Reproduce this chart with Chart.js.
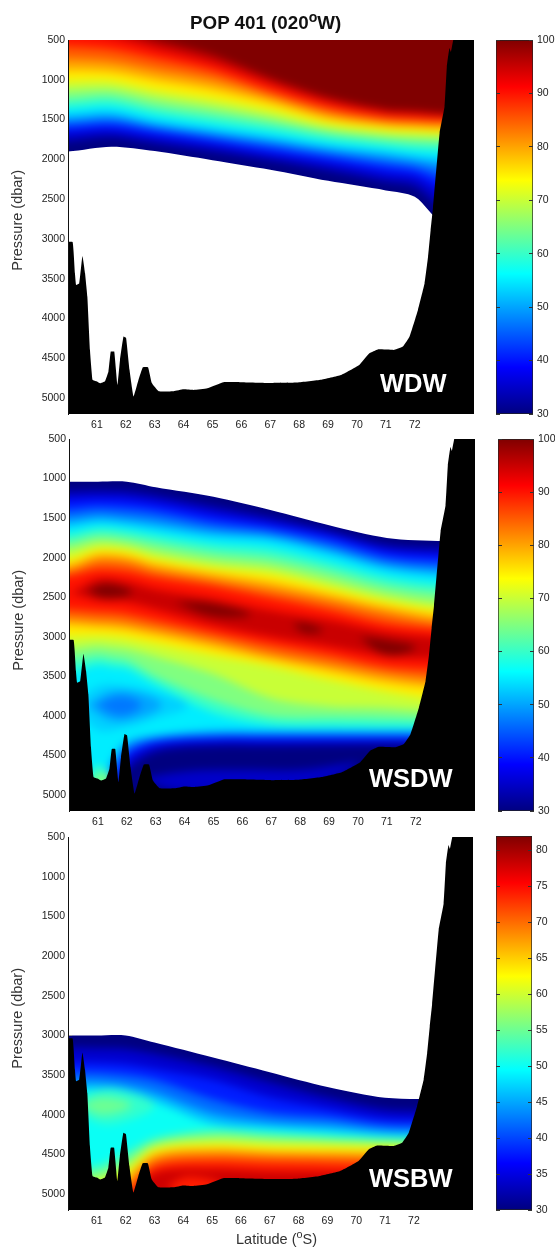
<!DOCTYPE html>
<html>
<head>
<meta charset="utf-8">
<title>POP 401</title>
<script src="https://cdn.jsdelivr.net/npm/chart.js@4"></script>
<style>
  html, body { margin: 0; background: #fff; overflow: hidden; }
  body { position: relative; width: 555px; height: 1248px; font-family: "Liberation Sans", Arial, sans-serif; color: #222; }
  canvas { position: absolute; }
  .txt { position: absolute; white-space: nowrap; z-index: 2; }
  .tag { color: #fff; font-weight: bold; font-size: 25.5px; line-height: 26px; }
  .ylab { font-size: 14.5px; line-height: 16px; color: #333; writing-mode: vertical-rl; transform: rotate(180deg); }
  .field { position: absolute; overflow: hidden; }
  .field canvas { filter: blur(4px); }
  sup { font-size: 75%; line-height: 0; }
</style>
</head>
<body>
<div class="txt" style="left:190px;top:12px;font-size:18.8px;font-weight:bold;color:#111">POP 401 (020<sup>o</sup>W)</div>
<div class="txt tag" style="left:380px;top:370px">WDW</div>
<div class="txt tag" style="left:369px;top:765px">WSDW</div>
<div class="txt tag" style="left:369px;top:1165px">WSBW</div>
<div class="txt ylab" style="left:9px;top:170px">Pressure (dbar)</div>
<div class="txt ylab" style="left:10px;top:570px">Pressure (dbar)</div>
<div class="txt ylab" style="left:9px;top:968px">Pressure (dbar)</div>
<div class="txt" style="left:236px;top:1231px;font-size:14.5px;color:#333">Latitude (<sup>o</sup>S)</div>

<canvas id="bar1"></canvas>
<canvas id="bar2"></canvas>
<canvas id="bar3"></canvas>

<script>
const latTicks = [61, 62, 63, 64, 65, 66, 67, 68, 69, 70, 71, 72];
const pressureTicks = [500, 1000, 1500, 2000, 2500, 3000, 3500, 4000, 4500, 5000];
const scaleTicks1 = [30, 40, 50, 60, 70, 80, 90, 100];
const scaleTicks3 = [30, 35, 40, 45, 50, 55, 60, 65, 70, 75, 80];

// sea floor, same section in all three panels
const floorLat = [59.9, 60.16, 60.24, 60.28, 60.39, 60.5, 60.59, 60.67, 60.76, 60.85, 61.0, 61.11, 61.28, 61.4, 61.48, 61.6, 61.71, 61.8, 61.92, 62.01, 62.13, 62.27, 62.44, 62.59, 62.77, 62.9, 63.14, 63.66, 64.0, 64.35, 64.82, 65.38, 65.97, 67.0, 67.94, 68.75, 69.44, 70.08, 70.43, 70.72, 71.3, 71.59, 71.82, 72.11, 72.34, 72.46, 72.55, 72.63, 72.86, 73.03, 73.11, 73.2, 73.25, 73.32, 73.37, 74.2, 74.2, 59.9];
const floorPressure = [3040, 3040, 3430, 3578, 3557, 3214, 3432, 3725, 4395, 4771, 4792, 4815, 4790, 4667, 4416, 4416, 4834, 4520, 4227, 4245, 4646, 4980, 4771, 4612, 4612, 4811, 4914, 4914, 4890, 4897, 4876, 4800, 4800, 4810, 4805, 4771, 4710, 4583, 4437, 4388, 4394, 4353, 4227, 3892, 3557, 3223, 2887, 2610, 1668, 1340, 835, 600, 650, 520, 450, 450, 5300, 5300];

// WDW: water above each contour is at or over that percentage
const wdwLevels = [30, 35, 40, 45, 50, 55, 60, 65, 70, 75, 80, 85, 90, 95, 100];
const wdwLat = [60, 61.5, 63, 65, 67, 69, 71, 72, 73];
const wdwLower = [
  [1900, 1840, 1895, 2010, 2130, 2270, 2390, 2470, 2800],
  [1770, 1720, 1800, 1900, 2010, 2140, 2280, 2340, 2600],
  [1660, 1630, 1710, 1810, 1930, 2040, 2170, 2220, 2400],
  [1590, 1560, 1640, 1750, 1860, 1970, 2080, 2130, 2250],
  [1520, 1490, 1590, 1690, 1790, 1900, 2000, 2050, 2120],
  [1450, 1420, 1530, 1630, 1730, 1840, 1920, 1970, 2010],
  [1350, 1320, 1430, 1540, 1640, 1760, 1840, 1880, 1900],
  [1250, 1220, 1340, 1440, 1550, 1680, 1760, 1790, 1800],
  [1130, 1120, 1230, 1340, 1470, 1620, 1700, 1720, 1730],
  [1020, 1020, 1130, 1240, 1380, 1560, 1640, 1660, 1680],
  [880, 900, 1000, 1120, 1290, 1490, 1580, 1600, 1620],
  [740, 770, 870, 1000, 1210, 1420, 1530, 1550, 1560],
  [580, 620, 730, 890, 1140, 1350, 1470, 1490, 1510],
  [400, 470, 610, 790, 1050, 1280, 1420, 1440, 1460],
  [200, 350, 500, 690, 980, 1220, 1370, 1390, 1420]
];

// WSDW: each level is the band between an upper and a lower contour
const wsdwLevels = [30, 35, 40, 45, 50, 55, 60, 65, 70, 75, 80, 85, 90, 95];
const wsdwUpperLat = [60, 61, 62, 63, 65, 67, 69, 71, 73];
const wsdwUpper = [
  [1040, 1040, 1040, 1110, 1230, 1400, 1590, 1750, 1790],
  [1160, 1150, 1160, 1210, 1350, 1490, 1660, 1840, 1880],
  [1260, 1250, 1260, 1310, 1450, 1570, 1710, 1910, 1960],
  [1380, 1350, 1370, 1410, 1550, 1640, 1790, 1990, 2050],
  [1490, 1450, 1480, 1520, 1640, 1710, 1870, 2070, 2140],
  [1590, 1540, 1570, 1620, 1720, 1770, 1940, 2140, 2220],
  [1700, 1630, 1660, 1720, 1830, 1890, 2060, 2250, 2340],
  [1800, 1720, 1750, 1820, 1940, 2010, 2170, 2360, 2450],
  [1900, 1810, 1840, 1930, 2050, 2120, 2290, 2470, 2580],
  [2010, 1890, 1910, 2010, 2130, 2210, 2380, 2550, 2660],
  [2090, 1960, 1980, 2080, 2200, 2310, 2460, 2620, 2740],
  [2160, 2040, 2060, 2160, 2280, 2410, 2550, 2710, 2830],
  [2230, 2150, 2170, 2250, 2360, 2510, 2660, 2830, 2900],
  [2450, 2270, 2300, 2400, 2520, 2670, 2790, 2940, 3010]
];
const wsdwLowerLat = [60, 61, 61.5, 62, 63, 65, 67, 69, 71, 73];
const wsdwLower = [
  [5300, 5300, 5300, 5300, 5300, 5300, 5300, 5300, 5300, 5300],
  [5300, 5300, 5200, 4700, 4450, 4380, 4380, 4370, 4360, 4360],
  [5300, 5300, 5000, 4560, 4370, 4310, 4310, 4310, 4310, 4310],
  [5300, 5300, 4850, 4480, 4320, 4270, 4265, 4265, 4265, 4265],
  [5300, 5300, 4700, 4400, 4280, 4230, 4230, 4230, 4230, 4230],
  [5300, 4900, 4550, 4320, 4240, 4180, 4180, 4180, 4180, 4180],
  [3450, 3350, 3380, 3400, 3600, 3960, 4110, 4130, 4140, 4140],
  [3300, 3240, 3270, 3300, 3500, 3800, 4000, 4020, 4030, 4050],
  [3150, 3110, 3130, 3150, 3250, 3470, 3780, 3880, 3900, 3950],
  [3000, 2990, 3000, 3020, 3090, 3240, 3370, 3540, 3690, 3800],
  [2850, 2880, 2890, 2910, 2980, 3130, 3290, 3430, 3570, 3650],
  [2760, 2790, 2800, 2820, 2890, 3040, 3210, 3340, 3470, 3550],
  [2650, 2680, 2690, 2710, 2790, 2950, 3100, 3230, 3380, 3420],
  [2450, 2540, 2550, 2560, 2650, 2850, 3000, 3120, 3250, 3280]
];
// closed features of WSDW: [level, latitudes, pressures]
const wsdwFeatures = [
  [35, [62.3, 64, 66, 68, 70, 68, 66, 64, 62.3], [4800, 4700, 4680, 4680, 4600, 4900, 4900, 4950, 4800]],
  [60, [60.6, 61, 61.5, 61, 60.6], [4800, 4620, 4800, 5000, 4800]],
  [65, [60.8, 61.1, 61.5, 61.1, 60.8], [4800, 4730, 4800, 4900, 4800]],
  [53, [60.2, 61, 62, 63, 64.1, 63, 62, 61, 60.2], [3860, 3620, 3620, 3700, 3870, 4030, 4140, 4180, 3860]],
  [50, [60.6, 61.5, 62.5, 63.2, 62.5, 61.5, 60.6], [3860, 3690, 3720, 3860, 4010, 4060, 3860]],
  [47, [60.9, 61.8, 62.5, 61.8, 60.9], [3860, 3750, 3860, 3990, 3860]],
  [100, [60.6, 61.3, 62.2, 61.3, 60.6], [2420, 2330, 2440, 2510, 2420]],
  [100, [63.6, 65, 66.3, 65, 63.6], [2560, 2580, 2720, 2740, 2560]],
  [100, [67.7, 68.2, 68.8, 68.2, 67.7], [2840, 2830, 2920, 2950, 2840]],
  [100, [70, 71, 72, 71, 70], [3000, 3040, 3130, 3230, 3000]]
];

// WSBW: water below each contour is at or over that percentage
const wsbwLevels = [30, 34, 38, 42, 46, 50, 54, 58, 62, 66, 70, 74, 78];
const wsbwLat = [60, 61, 62, 63, 65, 67, 69, 71, 73];
const wsbwUpper = [
  [3000, 3000, 3000, 3090, 3275, 3463, 3650, 3785, 3800],
  [3150, 3160, 3170, 3230, 3390, 3590, 3780, 3930, 3950],
  [3340, 3340, 3360, 3420, 3560, 3780, 3920, 4050, 4060],
  [3470, 3470, 3500, 3560, 3800, 3970, 4030, 4130, 4140],
  [3590, 3590, 3630, 3720, 3980, 4090, 4130, 4200, 4210],
  [3690, 3680, 3730, 3830, 4110, 4170, 4210, 4260, 4270],
  [4650, 4650, 4480, 4300, 4190, 4230, 4270, 4300, 4320],
  [4760, 4760, 4600, 4360, 4270, 4300, 4320, 4340, 4360],
  [4850, 4850, 4700, 4420, 4350, 4370, 4380, 4390, 4400],
  [5300, 5300, 4800, 4480, 4410, 4440, 4450, 4460, 4470],
  [5300, 5300, 4900, 4550, 4480, 4500, 4510, 4520, 4530],
  [5300, 5300, 5000, 4640, 4570, 4590, 4600, 4610, 4620],
  [5300, 5300, 5100, 4730, 4680, 4710, 4720, 4730, 4740]
];
const wsbwFeatures = [
  [52, [60.2, 61, 62, 63, 62, 61, 60.2], [3860, 3690, 3700, 3880, 4080, 4100, 3860]],
  [55, [60.4, 61.2, 62.2, 61.2, 60.4], [3880, 3780, 3880, 4000, 3880]],
  [74, [63.4, 64.2, 65.3, 64.2, 63.4], [4900, 4780, 4880, 5000, 4900]]
];

// tick marks show only where the section is white
const wdwLeftTicks = [2000, 2500, 3000];
const wsdwLeftTicks = [500, 1000];
const wsbwLeftTicks = [500, 1000, 1500, 2000, 2500, 3000];

const jetStops = [[0, 0, 0, 128], [0.125, 0, 0, 255], [0.375, 0, 255, 255], [0.625, 255, 255, 0], [0.875, 255, 0, 0], [1, 128, 0, 0]];
const latMin = 60, latMax = 74.05, pMin = 500, pMax = 5200;

function jet(t) {
  t = Math.min(1, Math.max(0, t));
  let i = 0;
  while (i < jetStops.length - 2 && t > jetStops[i + 1][0]) i++;
  const a = jetStops[i], b = jetStops[i + 1];
  const f = (t - a[0]) / (b[0] - a[0]);
  const c = [1, 2, 3].map(k => Math.round(a[k] + (b[k] - a[k]) * f));
  return "rgb(" + c.join(",") + ")";
}

function layer(points, color, tension) {
  return {
    data: points,
    fill: "shape",
    backgroundColor: color,
    borderColor: color,
    borderWidth: 0,
    pointRadius: 0,
    tension: tension
  };
}

// band between two contours, run out past both plot edges
function band(lat1, p1, lat2, p2, color) {
  const pts = [{ x: 59, y: p1[0] }];
  lat1.forEach((v, i) => pts.push({ x: v, y: p1[i] }));
  pts.push({ x: 75, y: p1[p1.length - 1] });
  pts.push({ x: 75, y: p2[p2.length - 1] });
  for (let i = lat2.length - 1; i >= 0; i--) pts.push({ x: lat2[i], y: p2[i] });
  pts.push({ x: 59, y: p2[0] });
  return layer(pts, color, 0.3);
}

function feature(f, min, max) {
  return layer(f[1].map((v, i) => ({ x: v, y: f[2][i] })), jet((f[0] - min) / (max - min)), 0.4);
}

function noPad(s) {
  s.paddingLeft = s.paddingRight = s.paddingTop = s.paddingBottom = 0;
}

// the colour field sits on its own canvas, softened, a little larger than the plot
function field(plot, painted) {
  const m = 24;
  const w = plot.right - plot.left, h = plot.bottom - plot.top;
  const box = document.createElement("div");
  box.className = "field";
  box.style.cssText = "left:" + plot.left + "px;top:" + plot.top + "px;width:" + w + "px;height:" + h + "px";
  const c = document.createElement("canvas");
  c.width = w + 2 * m;
  c.height = h + 2 * m;
  c.style.left = -m + "px";
  c.style.top = -m + "px";
  box.appendChild(c);
  document.body.appendChild(box);
  const dLat = m * (latMax - latMin) / w, dP = m * (pMax - pMin) / h;
  const base = layer([{ x: 58, y: 0 }, { x: 76, y: 0 }, { x: 76, y: 6000 }, { x: 58, y: 6000 }], jet(0), 0);
  new Chart(c, {
    type: "line",
    data: { datasets: [base].concat(painted).reverse() },
    options: {
      responsive: false,
      animation: false,
      plugins: { legend: { display: false }, tooltip: { enabled: false } },
      scales: {
        x: { type: "linear", display: false, min: latMin - dLat, max: latMax + dLat },
        y: { type: "linear", display: false, reverse: true, min: pMin - dP, max: pMax + dP }
      }
    }
  });
}

// white mask, sea floor and axes over the field
function section(plot, mask, leftTicks, topTicks) {
  const c = document.createElement("canvas");
  document.body.appendChild(c);
  const padTop = 10, below = 22;
  c.width = plot.right;
  c.height = plot.bottom - plot.top + padTop + below;
  c.style.left = "0px";
  c.style.top = (plot.top - padTop) + "px";
  const floor = layer(floorLat.map((v, i) => ({ x: v, y: floorPressure[i] })), "#000", 0.1);
  const font = { family: "Liberation Sans", size: 10.5 };
  new Chart(c, {
    type: "line",
    data: { datasets: [floor, mask] },
    options: {
      responsive: false,
      animation: false,
      layout: { padding: { top: padTop } },
      plugins: { legend: { display: false }, tooltip: { enabled: false } },
      scales: {
        x: {
          type: "linear", min: latMin, max: latMax,
          afterBuildTicks: s => { s.ticks = latTicks.map(v => ({ value: v })); },
          afterFit: s => { s.height = below; noPad(s); },
          grid: { drawOnChartArea: false, drawTicks: false },
          border: { display: false },
          ticks: { font: font, color: "#222", padding: 5, maxRotation: 0, autoSkip: false, callback: v => v }
        },
        xTop: {
          type: "linear", position: "top", min: latMin, max: latMax,
          afterBuildTicks: s => { s.ticks = latTicks.map(v => ({ value: v })); },
          afterFit: s => { s.height = 0; noPad(s); },
          grid: { drawOnChartArea: false, tickLength: -4, color: topTicks ? "#333" : "transparent" },
          border: { color: topTicks ? "#666" : "transparent" },
          ticks: { display: false }
        },
        y: {
          type: "linear", reverse: true, min: pMin, max: pMax,
          afterBuildTicks: s => { s.ticks = pressureTicks.map(v => ({ value: v })); },
          afterFit: s => { s.width = plot.left; noPad(s); },
          grid: { drawOnChartArea: false, tickLength: -4, color: t => leftTicks.includes(t.tick.value) ? "#333" : "transparent" },
          border: { color: "#111", z: 1 },
          ticks: { font: font, color: "#222", padding: 7, autoSkip: false, callback: v => v }
        }
      }
    }
  });
}

function colorbar(id, box, min, max, ticks) {
  const c = document.getElementById(id);
  const padTop = 8, padBottom = 8, right = 24;
  c.width = box.right - box.left + right;
  c.height = box.bottom - box.top + padTop + padBottom;
  c.style.left = box.left + "px";
  c.style.top = (box.top - padTop) + "px";
  const tickFont = { family: "Liberation Sans", size: 10.5 };
  const paint = ctx => {
    const ch = ctx.chart;
    if (!ch.chartArea) return "#000";
    const g = ch.ctx.createLinearGradient(0, ch.chartArea.bottom, 0, ch.chartArea.top);
    jetStops.forEach(s => g.addColorStop(s[0], jet(s[0])));
    return g;
  };
  new Chart(c, {
    type: "bar",
    data: { labels: ["pct"], datasets: [{ data: [[min, max]], backgroundColor: paint, borderColor: "#222", borderWidth: 1, barPercentage: 1, categoryPercentage: 1, borderSkipped: false }] },
    options: {
      responsive: false,
      animation: false,
      layout: { padding: { top: padTop, bottom: padBottom } },
      plugins: { legend: { display: false }, tooltip: { enabled: false } },
      scales: {
        x: { display: false },
        y: {
          position: "right", min: min, max: max,
          afterBuildTicks: s => { s.ticks = ticks.map(v => ({ value: v })); },
          afterFit: s => { s.width = right; noPad(s); },
          grid: { drawOnChartArea: false, tickLength: -4, color: "#333", z: 1 },
          border: { display: false },
          ticks: { font: tickFont, color: "#222", padding: 8, autoSkip: false, callback: v => v }
        },
        yLeft: {
          position: "left", min: min, max: max,
          afterBuildTicks: s => { s.ticks = ticks.map(v => ({ value: v })); },
          afterFit: s => { s.width = 0; noPad(s); },
          grid: { drawOnChartArea: false, tickLength: -4, color: "#333", z: 1 },
          border: { display: false },
          ticks: { display: false }
        }
      }
    }
  });
}

// first panel
const plot1 = { left: 68, right: 474, top: 40, bottom: 414 };
field(plot1, wdwLevels.map((l, i) => band(wdwLat, wdwLat.map(() => 0), wdwLat, wdwLower[i], jet((l - 30) / 70))));
section(plot1, band(wdwLat, wdwLower[0], wdwLat, wdwLat.map(() => 6000), "#fff"), wdwLeftTicks, false);

// second panel
const plot2 = { left: 69, right: 475, top: 439, bottom: 811 };
field(plot2, wsdwLevels.map((l, i) => band(wsdwUpperLat, wsdwUpper[i], wsdwLowerLat, wsdwLower[i], jet((l - 30) / 70)))
  .concat(wsdwFeatures.map(f => feature(f, 30, 100))));
section(plot2, band(wsdwUpperLat, wsdwUpperLat.map(() => 0), wsdwUpperLat, wsdwUpper[0], "#fff"), wsdwLeftTicks, true);

// third panel
const plot3 = { left: 68, right: 473, top: 837, bottom: 1210 };
field(plot3, wsbwLevels.map((l, i) => band(wsbwLat, wsbwUpper[i], wsbwLat, wsbwLat.map(() => 6000), jet((l - 30) / 52)))
  .concat(wsbwFeatures.map(f => feature(f, 30, 82))));
section(plot3, band(wsbwLat, wsbwLat.map(() => 0), wsbwLat, wsbwUpper[0], "#fff"), wsbwLeftTicks, true);

colorbar("bar1", { left: 496, right: 533, top: 40, bottom: 414 }, 30, 100, scaleTicks1);
colorbar("bar2", { left: 498, right: 534, top: 439, bottom: 811 }, 30, 100, scaleTicks1);
colorbar("bar3", { left: 496, right: 532, top: 836, bottom: 1210 }, 30, 82, scaleTicks3);
</script>
</body>
</html>
